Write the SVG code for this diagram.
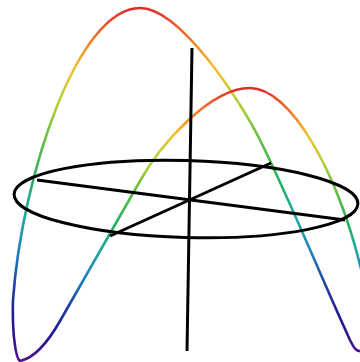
<svg xmlns="http://www.w3.org/2000/svg" width="360" height="362" viewBox="0 0 360 362">
  <defs>
    <linearGradient id="rainbowA" gradientUnits="userSpaceOnUse" x1="0" y1="8" x2="0" y2="356">
      <stop offset="0" stop-color="#e02a2a"/>
      <stop offset="0.07" stop-color="#ef6a2a"/>
      <stop offset="0.17" stop-color="#f0c030"/>
      <stop offset="0.27" stop-color="#b8d038"/>
      <stop offset="0.38" stop-color="#60c040"/>
      <stop offset="0.5" stop-color="#20b060"/>
      <stop offset="0.6" stop-color="#20a8a0"/>
      <stop offset="0.7" stop-color="#2080c0"/>
      <stop offset="0.8" stop-color="#2040a0"/>
      <stop offset="0.9" stop-color="#201890"/>
      <stop offset="1" stop-color="#501090"/>
    </linearGradient>
    <linearGradient id="rainbowB" href="#rainbowA" gradientUnits="userSpaceOnUse" x1="0" y1="88" x2="0" y2="360"/>
  </defs>
  <style>
    .curve { fill: none; stroke-width: 2.6; stroke-linecap: round; stroke-linejoin: round; }
    .axis { fill: none; stroke: #000; stroke-width: 3; stroke-linecap: butt; }
  </style>
  <rect width="360" height="362" fill="#fff"/>
  <g id="curves">
    <path id="curve-back" class="curve" stroke="url(#rainbowA)"
      d="M 20,361 C 16,359 12,335 13,300 C 22,175 78,8 140,8 C 180,8 240,100 260,140 C 290,200 320,275 350,340 C 354,348 356,352 362,351"/>
    <path id="curve-front" class="curve" stroke="url(#rainbowB)"
      d="M 363,277 C 338,170 290,88 250,88 C 210,88 160,145 140,181 C 128,202 72,300 60,321 C 48,342 35,358 20,361"/>
  </g>
  <g id="frame">
    <ellipse id="disk" class="axis" cx="186" cy="199" rx="172" ry="38.5" transform="rotate(1.6 186 199)"/>
    <line id="diameter-1" class="axis" x1="37" y1="180" x2="345" y2="220"/>
    <line id="diameter-2" class="axis" x1="110" y1="236" x2="271" y2="163"/>
    <line id="vertical-axis" class="axis" x1="192" y1="48" x2="187" y2="351"/>
  </g>
</svg>
